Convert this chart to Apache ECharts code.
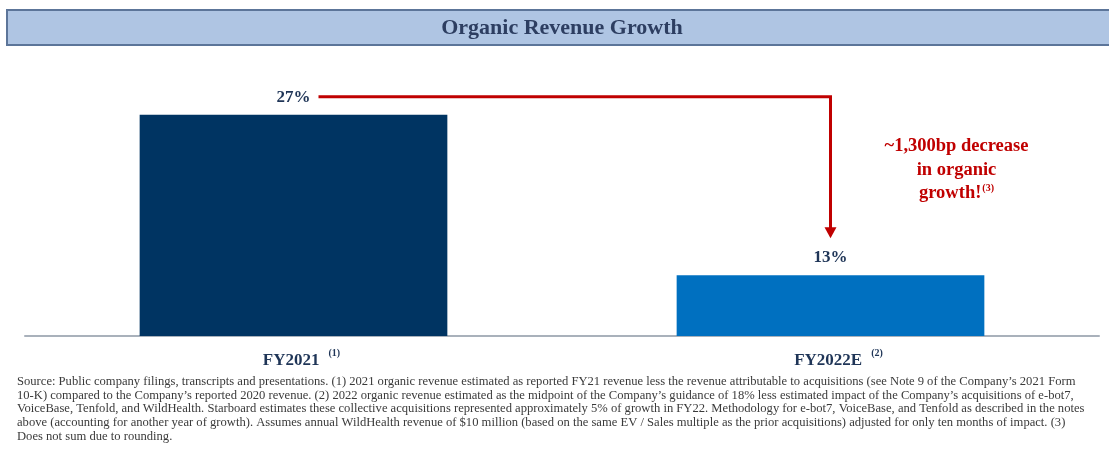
<!DOCTYPE html>
<html>
<head>
<meta charset="utf-8">
<script src="https://cdn.jsdelivr.net/npm/echarts@6/dist/echarts.min.js"></script>
<style>
html,body{margin:0;padding:0;background:#fff;}
#c{width:1109px;height:455px;}
</style>
</head>
<body>
<div id="c"></div>
<script>
// ---- data ----
var titleText = 'Organic Revenue Growth';
var categories = ['FY2021', 'FY2022E'];
var footMarks = ['(1)', '(2)'];
var growthValues = [27, 13];
var barColors = ['#003462', '#0070c0'];
var annotationLines = ['~1,300bp decrease', 'in organic', 'growth!'];
var annotationMark = '(3)';
var footnoteLines = [
  "Source: Public company filings, transcripts and presentations. (1) 2021 organic revenue estimated as reported FY21 revenue less the revenue attributable to acquisitions (see Note 9 of the Company\u2019s 2021 Form",
  "10-K) compared to the Company\u2019s reported 2020 revenue. (2) 2022 organic revenue estimated as the midpoint of the Company\u2019s guidance of 18% less estimated impact of the Company\u2019s acquisitions of e-bot7,",
  "VoiceBase, Tenfold, and WildHealth. Starboard estimates these collective acquisitions represented approximately 5% of growth in FY22. Methodology for e-bot7, VoiceBase, and Tenfold as described in the notes",
  "above (accounting for another year of growth). Assumes annual WildHealth revenue of $10 million (based on the same EV / Sales multiple as the prior acquisitions) adjusted for only ten months of impact. (3)",
  "Does not sum due to rounding."
];

var serif = '"Liberation Serif", "DejaVu Serif", serif';
var red = '#c00000';
var labelColor = '#1f3557';

var chart = echarts.init(document.getElementById('c'), null, {renderer: 'canvas'});

var option = {
  backgroundColor: '#ffffff',
  animation: false,
  grid: {left: 25, right: 10, top: 57.5, bottom: 119, containLabel: false},
  xAxis: {
    type: 'category',
    data: categories,
    axisTick: {show: false},
    axisLine: {show: true, lineStyle: {color: '#a9b1bb', width: 2}},
    axisLabel: {
      margin: 12,
      formatter: function (v, i) {
        return '{a|' + v + '}{s|' + footMarks[i] + '}';
      },
      rich: {
        a: {fontFamily: serif, fontSize: 17, color: labelColor, fontWeight: 'bold', padding: [0, 0, 0, 16]},
        s: {fontFamily: serif, fontSize: 10, color: labelColor, fontWeight: 'bold', padding: [0, 0, 16, 9]}
      }
    }
  },
  yAxis: {
    type: 'value',
    min: 7.7,
    max: 32,
    show: false,
    splitLine: {show: false}
  },
  series: [{
    type: 'bar',
    barWidth: '57.3%',
    data: growthValues.map(function (v, i) {
      return {value: v, itemStyle: {color: barColors[i]}};
    }),
    label: {
      show: true,
      position: 'top',
      distance: 9,
      formatter: '{c}%',
      fontFamily: serif,
      fontSize: 17,
      fontWeight: 'bold',
      color: labelColor
    }
  }]
};
chart.setOption(option);

// ---- annotations positioned from the chart's own scales ----
var p1 = chart.convertToPixel({gridIndex: 0}, [categories[0], growthValues[0]]);
var p2 = chart.convertToPixel({gridIndex: 0}, [categories[1], growthValues[1]]);
var lineY = p1[1] - 18;
var startX = p1[0] + 25;
var endX = p2[0];
var tipY = p2[1] - 37;

var footY0 = 382;
var footGraphics = footnoteLines.map(function (t, i) {
  return {
    type: 'text',
    left: 17,
    top: footY0 + i * 13.7 - 7,
    style: {text: t, fontFamily: serif, fontSize: 12.6, fill: '#3a3a3a'}
  };
});

var annotationText = annotationLines.map(function (t, i) {
  return i === annotationLines.length - 1 ? t + '{s|' + annotationMark + '}' : t;
}).join('\n');

chart.setOption({
  graphic: [
    {
      type: 'rect',
      shape: {x: 7, y: 10, width: 1110, height: 35},
      style: {fill: '#afc5e3', stroke: '#5c7599', lineWidth: 2}
    },
    {
      type: 'text',
      x: 562, y: 28,
      style: {
        text: titleText, fontFamily: serif, fontSize: 22, fontWeight: 'bold',
        fill: '#2d3e61', align: 'center', verticalAlign: 'middle'
      }
    },
    {
      type: 'polyline',
      shape: {points: [[startX, lineY], [endX, lineY], [endX, tipY - 9]]},
      style: {stroke: red, lineWidth: 3, fill: null}
    },
    {
      type: 'polygon',
      shape: {points: [[endX - 6, tipY - 11], [endX + 6, tipY - 11], [endX, tipY]]},
      style: {fill: red}
    },
    {
      type: 'text',
      x: endX + 126, y: lineY + 38,
      style: {
        text: annotationText, fontFamily: serif, fontSize: 18.5, fontWeight: 'bold',
        fill: red, align: 'center', verticalAlign: 'top', lineHeight: 23.5,
        rich: {s: {fontFamily: serif, fontSize: 10, fontWeight: 'bold', fill: red, padding: [0, 0, 10, 1]}}
      }
    }
  ].concat(footGraphics)
});
</script>
</body>
</html>
